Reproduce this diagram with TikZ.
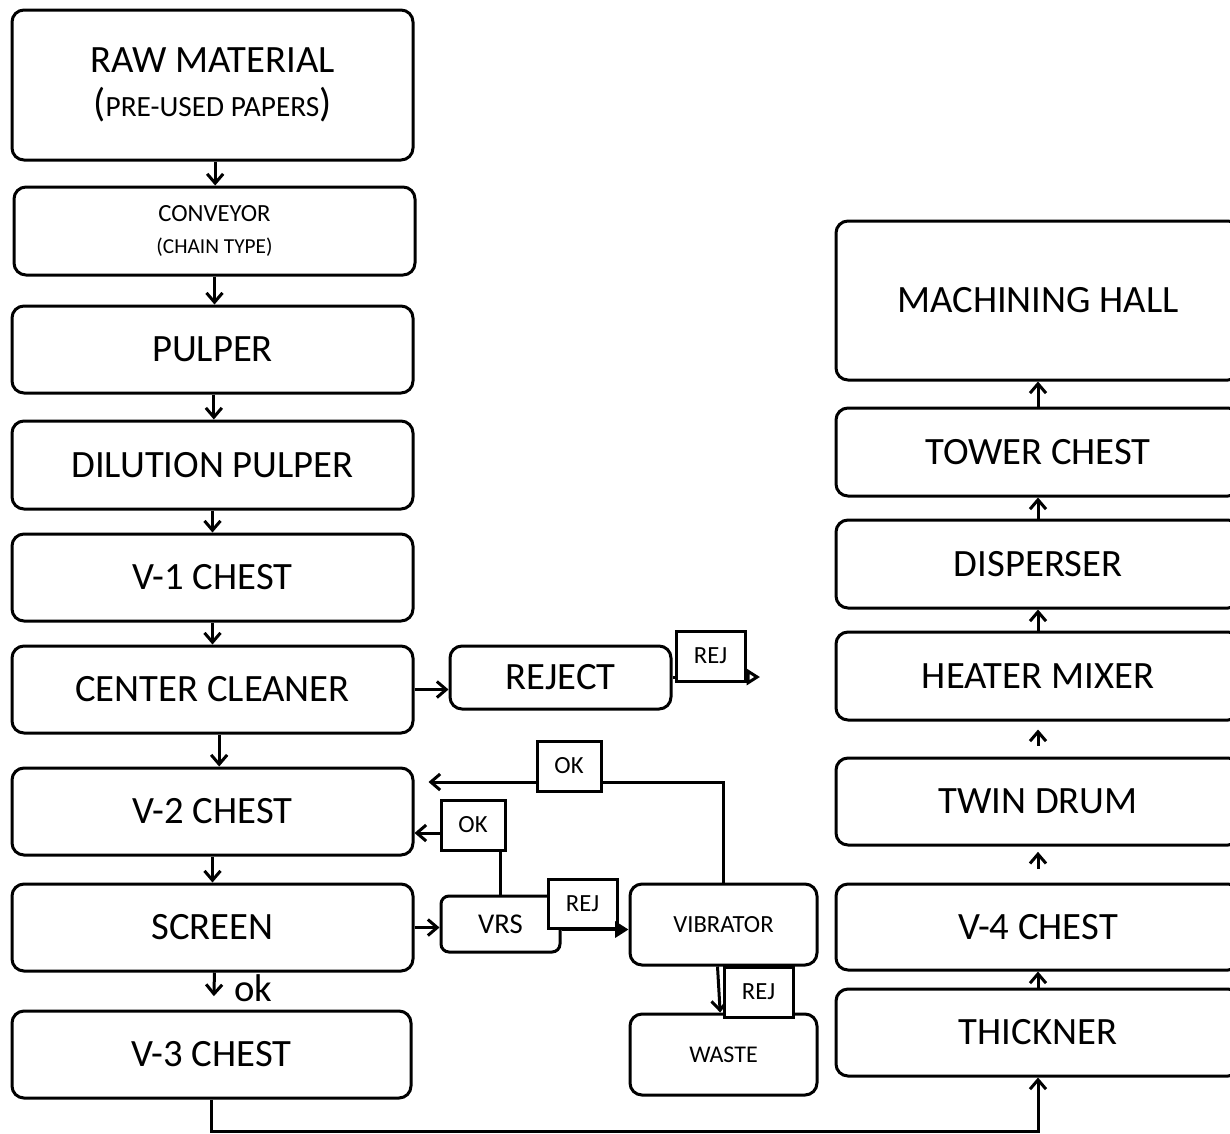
\documentclass[tikz,border=0pt]{standalone}
\usepackage{fontspec}
\setmainfont{Carlito}
\usetikzlibrary{arrows.meta,calc}
\newcommand\bigtxt{\fontsize{29}{33}\selectfont}
\newcommand\midtxt{\fontsize{18.5}{22}\selectfont}
\newcommand\smtxt{\fontsize{16}{19}\selectfont}
\newcommand\labtxt{\fontsize{18.5}{20}\selectfont}

\begin{document}
\begin{tikzpicture}[x=0.75pt,y=-0.75pt,
  box/.style={draw,line width=2.25pt,rounded corners=9pt,inner sep=0pt,align=center,font=\bigtxt,minimum width=300.75pt,minimum height=65.25pt},
  rbox/.style={box,minimum width=303pt,minimum height=66pt},
  tag/.style={draw,fill=white,line width=2.25pt,inner sep=0pt,font=\labtxt,minimum width=51.75pt,minimum height=37.5pt},
  arr/.style={line width=2.25pt,-{Straight Barb[length=7pt,width=12pt]}}]
\useasboundingbox (0,0) rectangle (1230,1133);
% left column
\node[box,minimum height=112.5pt] (raw) at (212.5,85) {RAW MATERIAL\\[0pt]{\fontsize{30}{32}\selectfont(}{\fontsize{22}{26}\selectfont PRE-USED PAPERS}{\fontsize{30}{32}\selectfont)}};
\node[box,minimum height=66pt] (conv) at (214.5,231) {\midtxt CONVEYOR\\[-9pt]\smtxt(CHAIN TYPE)};
\node[box] (pulper) at (212.5,349.5) {PULPER};
\node[box,minimum height=66pt] (dil) at (212.5,465) {DILUTION PULPER};
\node[box] (vone) at (212.5,577.5) {V-1 CHEST};
\node[box] (cc) at (212.5,689.5) {CENTER CLEANER};
\node[box] (vtwo) at (212.5,811.5) {V-2 CHEST};
\node[box] (screen) at (212.5,927.5) {SCREEN};
\node[box,minimum width=299.25pt] (vthree) at (211.5,1054.5) {V-3 CHEST};
\node[font=\bigtxt] (oklab) at (253,988) {ok};
% middle
\node[box,minimum width=165.75pt,minimum height=47.25pt] (reject) at (560.5,677.5) {REJECT};
\node[box,rounded corners=6pt,minimum width=89.25pt,minimum height=42pt,font=\fontsize{21.5}{24}\selectfont] (vrs) at (500.5,924) {VRS};
\node[box,minimum width=140.25pt,minimum height=60.75pt,font=\labtxt] (vib) at (723.5,924.5) {VIBRATOR};
\node[box,minimum width=140.25pt,minimum height=60.75pt,font=\fontsize{18}{20}\selectfont] (waste) at (723.5,1054.5) {WASTE};
% right column
\node[rbox,minimum height=119.25pt] (hall) at (1038,300.5) {MACHINING HALL};
\node[rbox] (tower) at (1038,452) {TOWER CHEST};
\node[rbox] (disp) at (1038,564) {DISPERSER};
\node[rbox] (heat) at (1038,676) {HEATER MIXER};
\node[rbox,minimum height=65.25pt] (twin) at (1038,801.5) {TWIN DRUM};
\node[rbox,minimum height=64.5pt] (vfour) at (1038,927) {V-4 CHEST};
\node[rbox,minimum height=65.25pt] (thick) at (1038,1032.5) {THICKNER};
% flow down the left
\draw[arr] ([xshift=2pt]raw.south) -- ([xshift=2pt]raw.south |- conv.north);
\draw[arr] (conv.south) -- (conv.south |- pulper.north);
\draw[arr] ([xshift=1pt]pulper.south) -- ([xshift=1pt]dil.north);
\draw[arr] (dil.south) -- (vone.north);
\draw[arr] (vone.south) -- (cc.north);
\draw[arr] ([xshift=5pt]cc.south) -- ([xshift=5pt]vtwo.north);
\draw[arr] (vtwo.south) -- (screen.north);
\draw[arr,shorten >=10pt] ([xshift=1.5pt]screen.south) -- ([xshift=1.5pt]vthree.north);
% side branches
\draw[arr] (cc.east) -- (cc.east -| reject.west);
\draw[arr] (screen.east) -- (screen.east -| vrs.west);
\coordinate (rejout) at (760,677);
\draw[line width=2.25pt,-{Triangle[open,length=10pt,width=12pt]}] (reject.east |- rejout) -- (rejout);
\node[tag] (reja) at (710.5,656) {REJ};
\node[tag,minimum width=51.75pt,minimum height=36.75pt] (rejb) at (582.5,903.5) {REJ};
\draw[line width=2.25pt,-{Triangle[length=10pt,width=12pt]}] (vrs.east |- rejb.south) -- (vib.west |- rejb.south);
\draw[arr] (vrs.north) |- ([yshift=-6pt]vtwo.east |- 0,825);
\node[tag,minimum width=48pt] (okb) at (473,825) {OK};
\draw[arr,shorten >=10.5pt] (vib.north) |- (vtwo.east |- 0,782);
\node[tag,minimum width=48pt] (oka) at (569,766) {OK};
\draw[arr] ([xshift=-4.5pt]vib.south) -- ([xshift=-2.5pt]waste.north);
\node[tag] (rejc) at (758.5,992) {REJ};
% back up the right
\coordinate (low) at (600,1131);
\draw[arr] (vthree.south) |- (low) -| (thick.south);
\draw[arr] (thick.north) -- (vfour.south);
\draw[arr,shorten <=10pt,shorten >=4pt] (vfour.north) -- (twin.south);
\draw[arr,shorten <=8pt,shorten >=6pt] (twin.north) -- (heat.south);
\draw[arr] (heat.north) -- (disp.south);
\draw[arr] (disp.north) -- (tower.south);
\draw[arr] (tower.north) -- (hall.south);
\end{tikzpicture}
\end{document}
